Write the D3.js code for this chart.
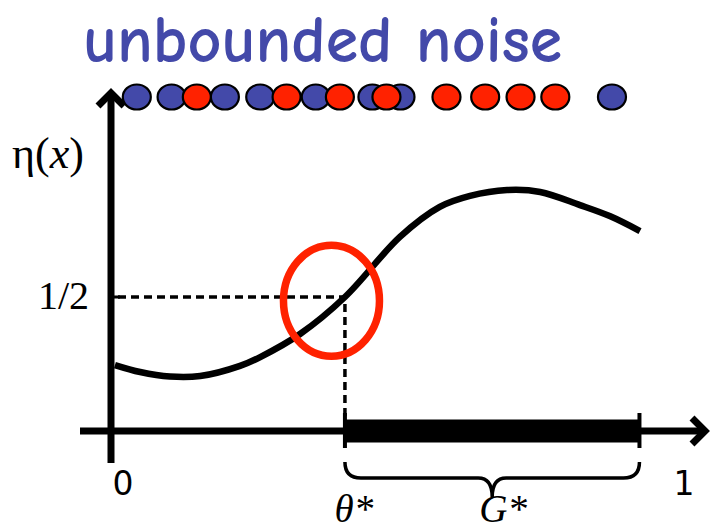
<!DOCTYPE html>
<html><head><meta charset="utf-8">
<script src="https://cdn.jsdelivr.net/npm/d3@7"></script>
<style>html,body{margin:0;padding:0;background:#fff;overflow:hidden}</style>
</head><body>
<script>
// ---- data ----
const curveX = [0.007,0.052,0.105,0.159,0.230,0.266,0.337,0.417,0.515,0.586,0.640,0.706,0.765,0.836,0.889,0.943];
const curveY = [0.246,0.220,0.203,0.205,0.243,0.276,0.362,0.500,0.724,0.836,0.877,0.899,0.892,0.843,0.802,0.746];
const blueX = [0.046,0.108,0.203,0.266,0.365,0.466,0.516,0.893];
const redX  = [0.153,0.313,0.408,0.491,0.598,0.667,0.730,0.792];
const theta = 0.417;
const gEnd = 0.942;
const half = 0.5;
const xTickLabels = ["0","1"];
const yTickLabel = "1/2";
const title = "unbounded noise";

const W = 711, H = 531;
const svg = d3.select("body").append("svg").attr("width", W).attr("height", H);
const x = d3.scaleLinear().domain([0,1]).range([111,672]);
const y = d3.scaleLinear().domain([0,1]).range([431,163]);

const BLUE = "#4349a9", RED = "#ff2200";

// clipped glyph from text above
svg.append("text").attr("x",326).attr("y",-12).attr("font-family","Liberation Serif")
  .attr("font-style","italic").attr("font-size",30).attr("fill","#000").text("g");

// title
svg.append("text").attr("x",83).attr("y",62)
  .attr("font-family","'Comic Sans MS','Comic Neue',Lato,'DejaVu Sans',sans-serif")
  .attr("font-weight",600)
  .attr("font-size",66).attr("fill",BLUE).attr("textLength",479).attr("lengthAdjust","spacingAndGlyphs")
  .text(title);

// dashed guide lines
svg.append("path")
  .attr("d", `M${x(0)+7},${y(half)}H${x(theta)}V${y(0)}`)
  .attr("fill","none").attr("stroke","#000").attr("stroke-width",3.5).attr("stroke-dasharray","8,5");

// axes
svg.append("line").attr("x1",80).attr("x2",704).attr("y1",y(0)).attr("y2",y(0))
  .attr("stroke","#000").attr("stroke-width",7);
svg.append("line").attr("x1",x(0)).attr("x2",x(0)).attr("y1",463).attr("y2",94)
  .attr("stroke","#000").attr("stroke-width",7);
// arrowheads
svg.append("polyline").attr("points",`${x(0)-13},${106} ${x(0)},${93} ${x(0)+13},${106}`)
  .attr("fill","none").attr("stroke","#000").attr("stroke-width",7).attr("stroke-linejoin","miter");
svg.append("polyline").attr("points",`${692},${y(0)-13} ${705},${y(0)} ${692},${y(0)+13}`)
  .attr("fill","none").attr("stroke","#000").attr("stroke-width",7).attr("stroke-linejoin","miter");
// 1/2 tick
svg.append("line").attr("x1",x(0)).attr("x2",x(0)+9).attr("y1",y(half)).attr("y2",y(half))
  .attr("stroke","#000").attr("stroke-width",3);

// thick bar G*
svg.append("rect").attr("x",x(theta)).attr("width",x(gEnd)-x(theta))
  .attr("y",y(0)-11.5).attr("height",23).attr("fill","#000");
[theta,gEnd].forEach(v=>{
  svg.append("line").attr("x1",x(v)).attr("x2",x(v)).attr("y1",413).attr("y2",448)
    .attr("stroke","#000").attr("stroke-width",4);
});

// brace
const bx0 = x(theta), bx1 = x(gEnd), bm = (bx0+bx1)/2;
const bt = 462, bh = 478, bp = 497;
svg.append("path")
  .attr("d",`M${bx0},${bt} Q${bx0},${bh} ${bx0+16},${bh} L${bm-14},${bh} Q${bm},${bh} ${bm},${bp}
             Q${bm},${bh} ${bm+14},${bh} L${bx1-16},${bh} Q${bx1},${bh} ${bx1},${bt}`)
  .attr("fill","none").attr("stroke","#000").attr("stroke-width",3.5);

// curve
const pts = curveX.map((v,i)=>[v,curveY[i]]);
svg.append("path").datum(pts)
  .attr("d", d3.line().x(d=>x(d[0])).y(d=>y(d[1])).curve(d3.curveCatmullRom))
  .attr("fill","none").attr("stroke","#000").attr("stroke-width",6.5);

// red ellipse
svg.append("ellipse").attr("cx",x(0.393)).attr("cy",y(0.486)).attr("rx",48).attr("ry",55.5)
  .attr("fill","none").attr("stroke",RED).attr("stroke-width",7.5);

// dots
const dotY = 97;
svg.selectAll(".b").data(blueX).enter().append("ellipse")
  .attr("cx",d=>x(d)).attr("cy",dotY).attr("rx",14).attr("ry",12.5)
  .attr("fill",BLUE).attr("stroke","#000").attr("stroke-width",2.2);
svg.selectAll(".r").data(redX).enter().append("ellipse")
  .attr("cx",d=>x(d)).attr("cy",dotY).attr("rx",14).attr("ry",12.5)
  .attr("fill",RED).attr("stroke","#000").attr("stroke-width",2.2);

// labels
svg.append("text").attr("x",12).attr("y",168).attr("font-family","Liberation Serif")
  .attr("font-size",44).attr("fill","#000")
  .html('η(<tspan font-style="italic">x</tspan>)');
svg.append("text").attr("x",89).attr("y",309).attr("text-anchor","end")
  .attr("font-family","Liberation Serif").attr("font-size",40).text(yTickLabel);
svg.selectAll(".xt").data(xTickLabels).enter().append("text")
  .attr("x",(d,i)=>x(i)+12).attr("y",495).attr("text-anchor","middle")
  .attr("font-family","'DejaVu Sans',sans-serif").attr("font-size",33).text(d=>d);
svg.append("text").attr("x",x(theta)+9).attr("y",522).attr("text-anchor","middle")
  .attr("font-family","Liberation Serif").attr("font-style","italic").attr("font-size",39).text("θ*");
svg.append("text").attr("x",bm+11).attr("y",522).attr("text-anchor","middle")
  .attr("font-family","Liberation Serif").attr("font-style","italic").attr("font-size",39).text("G*");
</script>
</body></html>
